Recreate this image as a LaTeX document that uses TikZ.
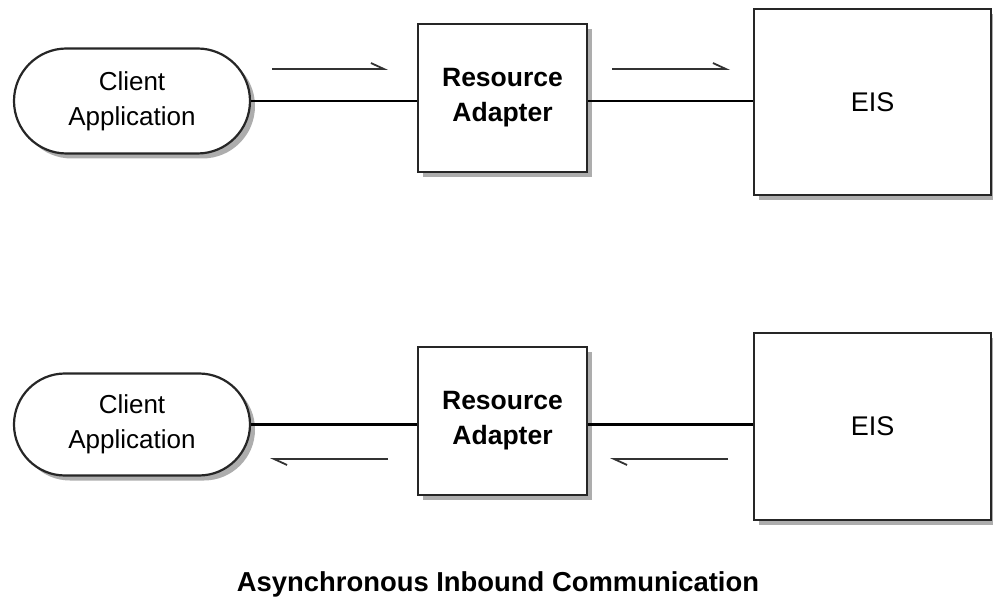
\documentclass[tikz,border=0pt]{standalone}
\usepackage{fontspec}
\setmainfont{Liberation Sans}
\usetikzlibrary{shapes.misc,shadows,arrows.meta}
\begin{document}
\begin{tikzpicture}[x=1pt,y=-1pt,
  sh/.style={drop shadow={shadow xshift=5pt,shadow yshift=-5pt,fill=black!32,opacity=1}},
  box/.style={draw=black!85,line width=2.2pt,fill=white,sh,inner sep=0pt,align=center,
    font=\fontsize{26}{35}\selectfont},
  client/.style={box,rounded rectangle,minimum width=236pt},
  ra/.style={box,rectangle,minimum width=169pt,minimum height=148pt,font=\bfseries\fontsize{26.5}{35}\selectfont},
  eis/.style={box,rectangle,minimum width=237pt,font=\fontsize{27}{35}\selectfont},
  link/.style={line width=2.6pt,black},
  flow/.style={line width=1.8pt,black!80,-{Straight Barb[left,length=13pt,width=12pt]}}
]
\useasboundingbox (0,0) rectangle (993,601);
% top row
\node[client,minimum height=105pt] (c1) at (132,101) {Client\\Application};
\node[ra] (r1) at (502.5,98) {Resource\\Adapter};
\node[eis,minimum height=186pt] (e1) at (872.5,102) {EIS};
\draw[link] (c1.east) -- (c1.east -| r1.west);
\draw[link] (c1.east -| r1.east) -- (c1.east -| e1.west);
\coordinate (a1s) at (272,69);
\coordinate (a1e) at (388,69);
\coordinate (a2s) at (612,69);
\coordinate (a2e) at (730,69);
\draw[flow] (a1s) -- (a1e);
\draw[flow] (a2s) -- (a2e);
% bottom row
\node[client,minimum height=102pt] (c2) at (132,424.5) {Client\\Application};
\node[ra] (r2) at (502.5,421) {Resource\\Adapter};
\node[eis,minimum height=187pt] (e2) at (872.5,426.5) {EIS};
\draw[link] (c2.east) -- (c2.east -| r2.west);
\draw[link] (c2.east -| r2.east) -- (c2.east -| e2.west);
\coordinate (b1s) at (388,459);
\coordinate (b1e) at (270,459);
\coordinate (b2s) at (728,459);
\coordinate (b2e) at (610,459);
\draw[flow] (b1s) -- (b1e);
\draw[flow] (b2s) -- (b2e);
% title
\node[font=\bfseries\fontsize{27.4}{32}\selectfont] (title) at (498,584) {Asynchronous Inbound Communication};
\end{tikzpicture}
\end{document}
